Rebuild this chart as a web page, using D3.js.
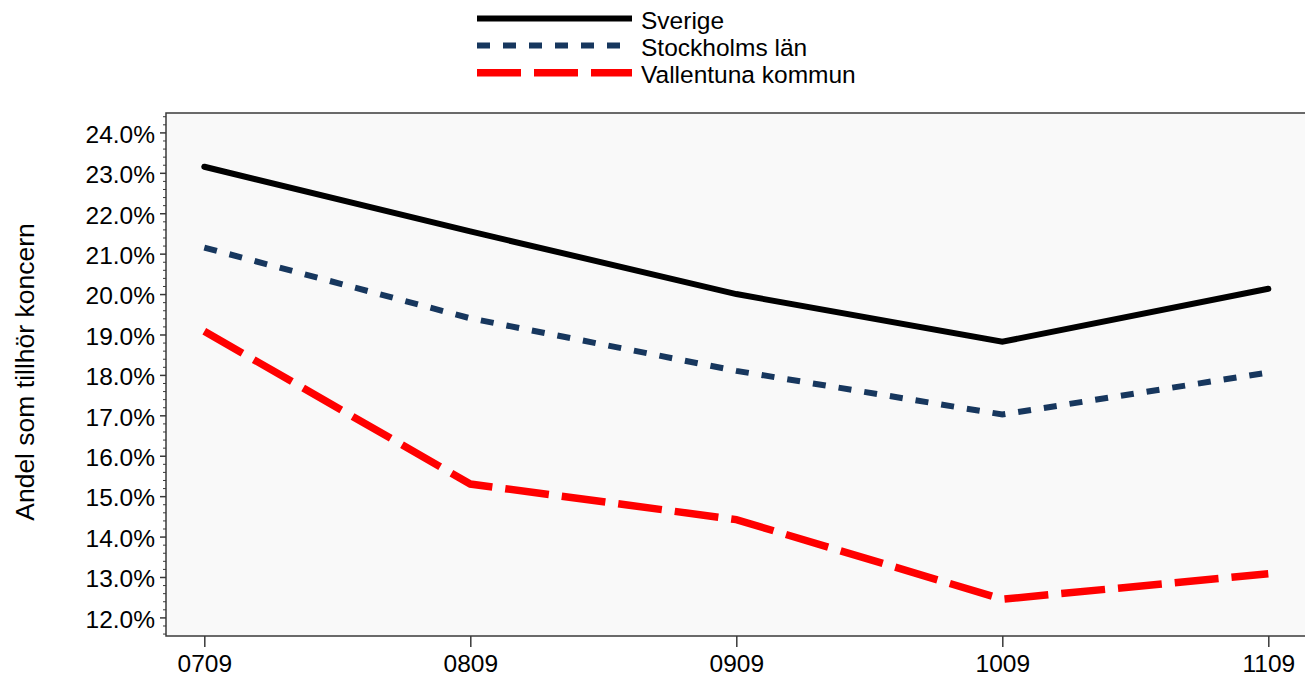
<!DOCTYPE html>
<html>
<head>
<meta charset="utf-8">
<script src="https://cdn.jsdelivr.net/npm/d3@7"></script>
<style>
  html, body { margin: 0; padding: 0; background: #ffffff; }
  svg { display: block; }
  text { font-family: "Liberation Sans", Arial, Helvetica, sans-serif; fill: #000; }
</style>
</head>
<body>
<svg id="chart" width="1305" height="687"></svg>
<script>
// ---- data ----
const categories = ["0709", "0809", "0909", "1009", "1109"];
const seriesNames = ["Sverige", "Stockholms län", "Vallentuna kommun"];
const sverige = [23.15, 21.55, 20.0, 18.82, 20.13];
const stockholm = [21.15, 19.4, 18.1, 17.02, 18.06];
const vallentuna = [19.08, 15.3, 14.42, 12.45, 13.08];
const yTickValues = [12, 13, 14, 15, 16, 17, 18, 19, 20, 21, 22, 23, 24];
const yTitle = "Andel som tillhör koncern";

const series = [
  { name: seriesNames[0], values: sverige, color: "#000000", width: 6, dash: null, cap: "round" },
  { name: seriesNames[1], values: stockholm, color: "#17375E", width: 6, dash: "13,13", cap: "butt" },
  { name: seriesNames[2], values: vallentuna, color: "#FF0000", width: 7.5, dash: "44,13", cap: "butt" }
];

const svg = d3.select("#chart");
const plot = { left: 166, right: 1312, top: 113, bottom: 636 };
const fontSize = "24.5px";

const x = d3.scalePoint().domain(categories).range([204.3, 1268.3]);
const y = d3.scaleLinear().domain([11.54, 24.48]).range([plot.bottom, plot.top]);

// plot background
svg.append("rect")
  .attr("x", plot.left).attr("y", plot.top)
  .attr("width", plot.right - plot.left).attr("height", plot.bottom - plot.top)
  .attr("fill", "#F9F9F9")
  .attr("stroke", "#3a3a3a").attr("stroke-width", 1.5);

// minor y ticks
const minor = d3.range(11.6, 24.45, 0.2).filter(v => Math.abs(v - Math.round(v)) > 0.01);
svg.append("g")
  .attr("transform", `translate(${plot.left},0)`)
  .call(d3.axisLeft(y).tickValues(minor).tickSize(3).tickFormat(""))
  .call(g => g.select(".domain").remove())
  .call(g => g.selectAll("line").attr("stroke", "#3a3a3a").attr("stroke-width", 1));

// major y axis
svg.append("g")
  .attr("transform", `translate(${plot.left},0)`)
  .call(d3.axisLeft(y).tickValues(yTickValues).tickSize(6).tickPadding(5)
    .tickFormat(d => d3.format(".1f")(d) + "%"))
  .call(g => g.select(".domain").remove())
  .call(g => g.selectAll("line").attr("stroke", "#3a3a3a").attr("stroke-width", 1.5))
  .call(g => g.selectAll("text").attr("font-size", fontSize)
    .attr("font-family", "Liberation Sans, Arial, sans-serif").attr("dy", "0.4em").attr("fill", "#000"));

// x axis
svg.append("g")
  .attr("transform", `translate(0,${plot.bottom})`)
  .call(d3.axisBottom(x).tickSize(11).tickPadding(8))
  .call(g => g.select(".domain").remove())
  .call(g => g.selectAll("line").attr("stroke", "#3a3a3a").attr("stroke-width", 1.5))
  .call(g => g.selectAll("text").attr("font-size", fontSize)
    .attr("font-family", "Liberation Sans, Arial, sans-serif").attr("fill", "#000"));

// y title
svg.append("text")
  .attr("transform", `translate(34,372) rotate(-90)`)
  .attr("text-anchor", "middle")
  .attr("font-size", "26.5px")
  .text(yTitle);

// lines
const line = d3.line()
  .x((d, i) => x(categories[i]))
  .y(d => y(d));

series.forEach(s => {
  svg.append("path")
    .datum(s.values)
    .attr("d", line)
    .attr("fill", "none")
    .attr("stroke", s.color)
    .attr("stroke-width", s.width)
    .attr("stroke-linecap", s.cap)
    .attr("stroke-linejoin", "miter")
    .attr("stroke-dasharray", s.dash);
});

// legend
const legendY = [18.5, 45.5, 72.8];
const lg = svg.append("g");
series.forEach((s, i) => {
  lg.append("line")
    .attr("x1", 477).attr("x2", 632)
    .attr("y1", legendY[i]).attr("y2", legendY[i])
    .attr("stroke", s.color)
    .attr("stroke-width", s.width)
    .attr("stroke-dasharray", s.dash);
  lg.append("text")
    .attr("x", 641)
    .attr("y", legendY[i] + 10)
    .attr("font-size", fontSize)
    .text(s.name);
});
</script>
</body>
</html>
